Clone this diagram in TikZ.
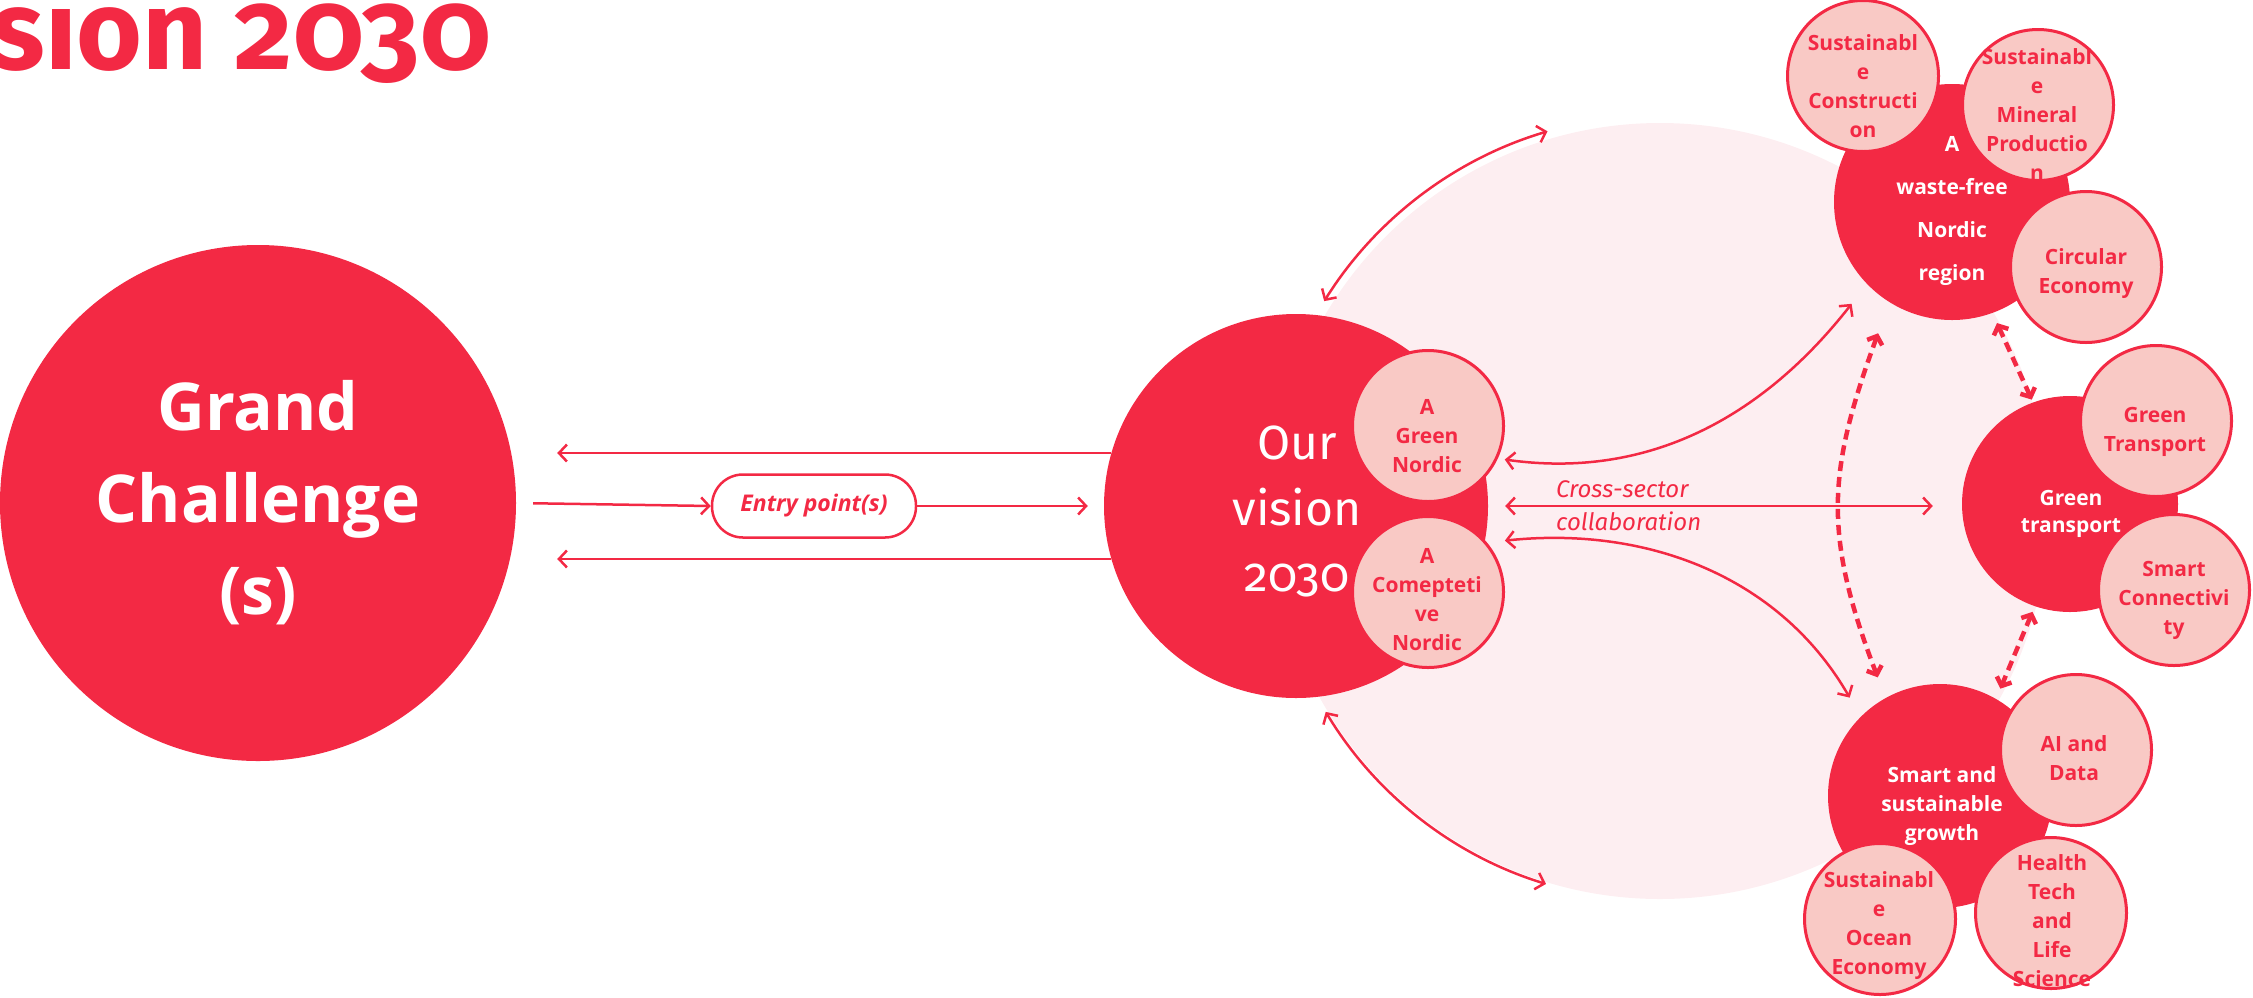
\documentclass[tikz,border=0pt]{standalone}
\usepackage{fontspec}
\setmainfont{Open Sans}
\newfontfamily\visionfont[Numbers=OldStyle]{Fira Sans}
\usetikzlibrary{arrows.meta}

\definecolor{visred}{RGB}{243,41,68}
\definecolor{vispink}{RGB}{249,201,197}
\definecolor{vispale}{RGB}{253,238,241}

\tikzset{
	bigdot/.style={circle, fill=visred, inner sep=0pt, minimum size=#1},
	subdot/.style={circle, draw=visred, line width=3pt, fill=vispink, inner sep=0pt, minimum size=151pt},
	bigtext/.style={text=white, align=center, inner sep=0pt, font=\bfseries\fontsize{21}{#1}\selectfont},
	subtext/.style={text=visred, align=center, inner sep=0pt, font=\bfseries\fontsize{21}{29}\selectfont},
	link/.style={visred, line width=2.5pt, >={Straight Barb[length=8pt,width=17pt]}},
	duallink/.style={visred, line width=4.5pt, dash pattern=on 10pt off 6pt, >={Straight Barb[length=7pt,width=16pt]}},
}

\begin{document}
\begin{tikzpicture}[x=1pt, y=-1pt]
	\useasboundingbox (0,0) rectangle (2253,997);
	\node [circle, fill=vispale, inner sep=0pt, minimum size=776pt] (pale) at (1660,511) {};
	\node [anchor=base east, inner sep=0pt, text=visred, font=\visionfont\bfseries\fontsize{113}{113}\selectfont] (title) at (491,69) {sion 2030};

	\node [bigdot=516pt] (gc) at (258,503) {};
	\node [bigtext, font=\bfseries\fontsize{66}{92}\selectfont] (gc-t) at (258,503) {Grand\\Challenge\\(s)};
	\node [draw=visred, line width=2.5pt, rounded corners=31pt, minimum width=204pt, minimum height=63pt, text=visred, font=\bfseries\itshape\fontsize{23}{23}\selectfont] (entry) at (814,506) {Entry point(s)};

	\node [bigdot=384pt] (vis) at (1296,506) {};
	\node [bigtext, font=\visionfont\fontsize{48}{66}\selectfont] (vis-t) at (1297,511) {Our\\vision\\2030};
	\node [subdot] (gn) at (1428,426) {};
	\node [subtext] (gn-t) at (1427,436) {A\\Green\\Nordic};
	\node [subdot] (gcp) at (1428,592) {};
	\node [subtext] (gcp-t) at (1427,600) {A\\Comepteti\\ve\\Nordic};

	\node [bigdot=236pt] (wf) at (1952,202) {};
	\node [bigtext=43] (wf-t) at (1952,211) {A\\waste-free\\Nordic\\region};
	\node [bigdot=216pt] (gt) at (2070,504) {};
	\node [bigtext=27] (gt-t) at (2071,514) {Green\\transport};
	\node [bigdot=224pt] (sg) at (1940,796) {};
	\node [bigtext=29] (sg-t) at (1942,806) {Smart and\\sustainable\\growth};

	\node [subdot] (scon) at (1863,76) {};
	\node [subtext] (scon-t) at (1863,86) {Sustainabl\\e\\Constructi\\on};
	\node [subdot] (smin) at (2038,105) {};
	\node [subtext] (smin-t) at (2037,115) {Sustainabl\\e\\Mineral\\Productio\\n};
	\node [subdot] (ceco) at (2086,267) {};
	\node [subtext] (ceco-t) at (2086,274) {Circular\\Economy};
	\node [subdot] (gtr) at (2156,421) {};
	\node [subtext] (gtr-t) at (2155,432) {Green\\Transport};
	\node [subdot] (scn) at (2174,590) {};
	\node [subtext] (scn-t) at (2174,600) {Smart\\Connectivi\\ty};
	\node [subdot] (aid) at (2076,750) {};
	\node [subtext] (aid-t) at (2074,758) {AI and\\Data};
	\node [subdot] (soe) at (1880,919) {};
	\node [subtext] (soe-t) at (1879,926) {Sustainabl\\e\\Ocean\\Economy};
	\node [subdot] (htl) at (2051,913) {};
	\node [subtext] (htl-t) at (2052,921) {Health\\Tech\\and\\Life\\Science};

	\draw [link, ->, shorten >=41pt] (vis.164) -- (vis.164 -| gc.east);
	\draw [link, ->, shorten >=41pt] (vis.196) -- (vis.196 -| gc.east);
	\draw [link, ->, shorten <=17pt] (gc.east) -- (entry.west);
	\draw [link, ->, shorten >=16pt] (entry.east) -- (vis.west);

	\draw [link, <->, shorten <=17pt, shorten >=29pt] (vis.east) -- (vis.east -| gt.west);
	\node [anchor=west, align=left, inner sep=0pt, text=visred, font=\visionfont\itshape\fontsize{24}{33}\selectfont] (xsec) at (1556,506) {Cross-sector\\collaboration};
	\draw [link, <->, shorten <=7pt, shorten >=25pt] (gn.-25) to [out=-8, in=232] (wf.224);
	\draw [link, <->, shorten <=18pt, shorten >=22pt] (gcp.40) to [out=6, in=120] (sg.135);
	\draw [link, <->] ([shift={(148:396pt)}]pale.center) arc [start angle=148, end angle=106.5, radius=396pt];
	\draw [link, <->] ([shift={(211:390pt)}]pale.center) arc [start angle=211, end angle=253, radius=390pt];

	\draw [duallink, <->, shorten <=33pt, shorten >=22pt] (wf.238) to [out=250, in=111, looseness=1.15] (sg.119);
	\draw [duallink, <->, shorten <=11pt, shorten >=3pt] (wf.-70) -- (gt.110);
	\draw [duallink, <->, shorten <=6pt, shorten >=11pt] (gt.251) -- (sg.60);
\end{tikzpicture}
\end{document}
